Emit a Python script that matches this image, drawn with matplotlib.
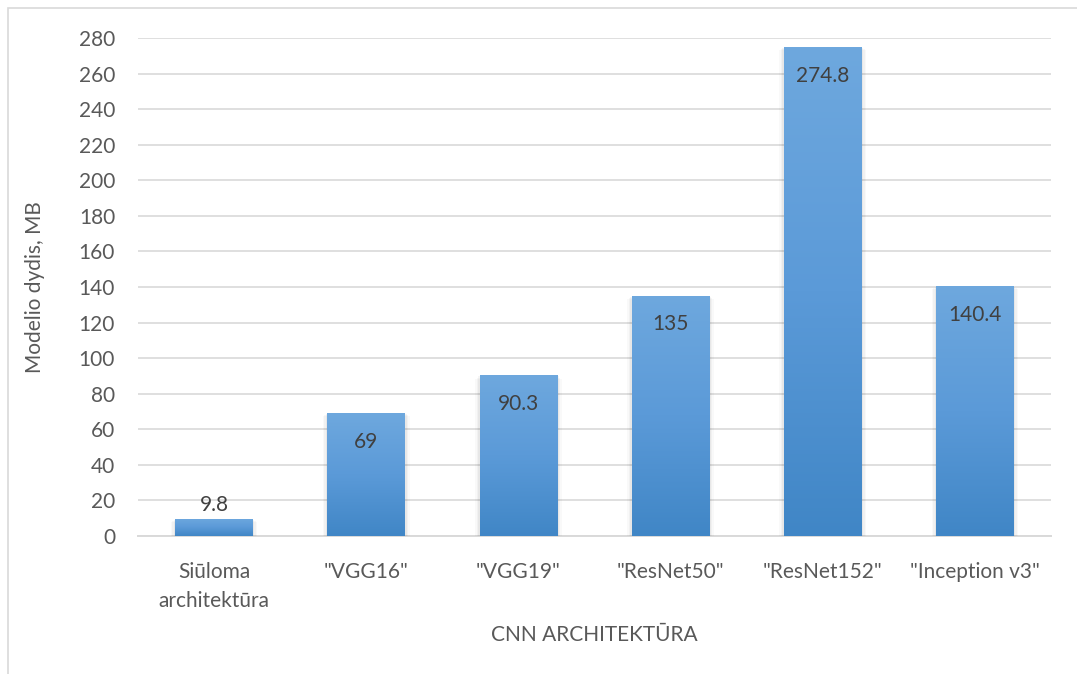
import numpy as np
import matplotlib.pyplot as plt
from matplotlib.colors import LinearSegmentedColormap
from matplotlib.patches import Rectangle

# model sizes per architecture
architectures = ["Siūloma\narchitektūra", '"VGG16"', '"VGG19"',
                 '"ResNet50"', '"ResNet152"', '"Inception v3"']
sizes_mb = [9.8, 69, 90.3, 135, 274.8, 140.4]
size_labels = ["9.8", "69", "90.3", "135", "274.8", "140.4"]
y_ticks = list(range(0, 281, 20))

plt.rcParams['font.family'] = ['Lato', 'DejaVu Sans']
text_gray = "#595959"
grid_gray = "#d9d9d9"
fs = 15

fig = plt.figure(figsize=(10.77, 6.74), dpi=100)
ax = fig.add_axes([138 / 1077, 1 - 536 / 674, (1051 - 138) / 1077, (536 - 38) / 674])

# outer chart frame
fig.patches.append(Rectangle((8 / 1077, -0.01), 1.1, 1 - 8 / 674 + 0.01,
                             transform=fig.transFigure, fill=False,
                             edgecolor="#d9d9d9", linewidth=1.2))

grad = LinearSegmentedColormap.from_list("bar", ["#4086c6", "#5b9ad8", "#6ea8de"])
x = np.arange(len(architectures))
width = 0.51

bars = ax.bar(x, sizes_mb, width=width, color="none", zorder=3)
for b in bars:
    bx, by = b.get_x(), b.get_y()
    bw, bh = b.get_width(), b.get_height()
    # soft shadow on the sides and bottom of each bar
    for k, a in enumerate([0.025, 0.03, 0.04]):
        off = 0.01 * (3 - k)
        ax.add_patch(Rectangle((bx - off, by - 0.6 * (3 - k)), bw + 2 * off, bh,
                               color="black", alpha=a, linewidth=0, zorder=2))
    img = np.linspace(0, 1, 256).reshape(-1, 1)
    im = ax.imshow(img, cmap=grad, aspect="auto", origin="lower",
                   extent=(bx, bx + bw, by, by + bh), zorder=3)
    im.set_clip_path(b)

for xi, v, lab in zip(x, sizes_mb, size_labels):
    if v < 20:
        ax.text(xi, v + 2.2, lab, ha="center", va="bottom", fontsize=fs,
                color="#404040", zorder=4)
    else:
        ax.text(xi, v - 16, lab, ha="center", va="center", fontsize=fs,
                color="#404040", zorder=4)

ax.set_xlim(-0.5, len(architectures) - 0.5)
ax.set_ylim(0, 280)
ax.set_yticks(y_ticks)
ax.set_yticklabels([str(t) for t in y_ticks])
ax.set_xticks(x)
ax.set_xticklabels(architectures, linespacing=1.55)
ax.tick_params(axis="y", length=0, pad=16.5, labelsize=fs, labelcolor=text_gray)
ax.tick_params(axis="x", length=0, pad=19, labelsize=fs, labelcolor=text_gray)
ax.yaxis.grid(True, color=grid_gray, linewidth=1.2, zorder=0)
ax.set_axisbelow(True)
for s in ["top", "right", "left"]:
    ax.spines[s].set_visible(False)
ax.spines["bottom"].set_color(grid_gray)
ax.spines["bottom"].set_linewidth(1.4)
ax.spines["bottom"].set_zorder(1)

ax.set_ylabel("Modelio dydis, MB", fontsize=fs, color=text_gray, labelpad=24)
ax.set_xlabel("CNN ARCHITEKTŪRA", fontsize=fs, color=text_gray, labelpad=10)

fig.savefig("out.png", dpi=100, facecolor="white")
